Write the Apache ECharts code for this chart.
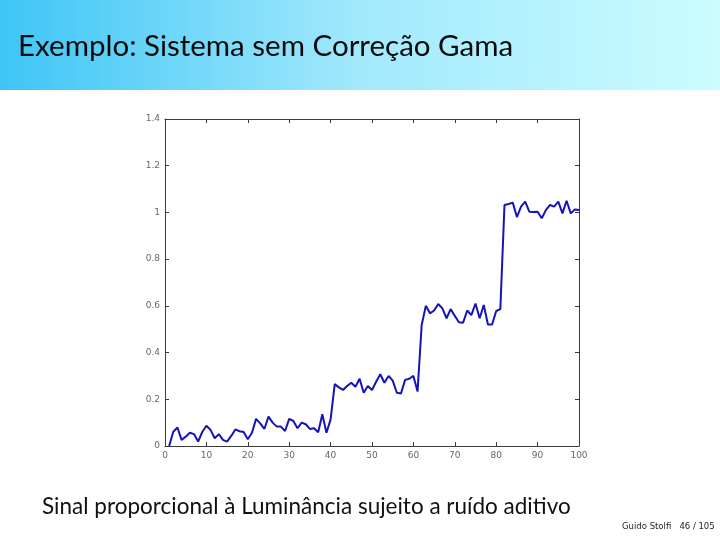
<!DOCTYPE html>
<html>
<head>
<meta charset="utf-8">
<script src="https://cdn.jsdelivr.net/npm/echarts@6/dist/echarts.min.js"></script>
<style>
html,body{margin:0;padding:0;background:#fff;}
#c{width:720px;height:540px;}
</style>
</head>
<body>
<div id="c"></div>
<script>
const titleText = "Exemplo: Sistema sem Correção Gama";
const captionText = "Sinal proporcional à Luminância sujeito a ruído aditivo";
const footerText = "Guido Stolfi   46 / 105";

const sampleIndex = [1,2,3,4,5,6,7,8,9,10,11,12,13,14,15,16,17,18,19,20,
  21,22,23,24,25,26,27,28,29,30,31,32,33,34,35,36,37,38,39,40,
  41,42,43,44,45,46,47,48,49,50,51,52,53,54,55,56,57,58,59,60,
  61,62,63,64,65,66,67,68,69,70,71,72,73,74,75,76,77,78,79,80,
  81,82,83,84,85,86,87,88,89,90,91,92,93,94,95,96,97,98,99,100];

const signal = [0.000,0.061,0.079,0.026,0.040,0.057,0.051,0.019,0.060,0.087,
  0.069,0.033,0.051,0.026,0.019,0.043,0.071,0.063,0.060,0.029,
  0.057,0.116,0.097,0.073,0.126,0.100,0.083,0.083,0.064,0.116,
  0.107,0.076,0.100,0.093,0.073,0.076,0.059,0.136,0.057,0.114,
  0.265,0.251,0.240,0.257,0.271,0.254,0.288,0.228,0.257,0.240,
  0.275,0.307,0.271,0.300,0.280,0.228,0.225,0.283,0.288,0.300,
  0.233,0.518,0.600,0.568,0.580,0.608,0.589,0.547,0.586,0.557,
  0.530,0.528,0.580,0.560,0.610,0.547,0.604,0.520,0.520,0.578,
  0.586,1.032,1.036,1.042,0.980,1.025,1.046,1.003,1.002,1.003,
  0.975,1.010,1.032,1.025,1.046,0.996,1.050,0.996,1.013,1.010];

const xTicks = [0,10,20,30,40,50,60,70,80,90,100];
const yTicks = [0,0.2,0.4,0.6,0.8,1,1.2,1.4];

const chart = echarts.init(document.getElementById('c'), null, {renderer:'canvas'});
const pts = sampleIndex.map((x,i)=>[x, signal[i]]);
const axisCol = '#3a3a3a';
const lblCol = '#666';
const tickStyle = {show:true, inside:true, length:4, lineStyle:{color:axisCol, width:1}};

chart.setOption({
  animation:false,
  backgroundColor:'#ffffff',
  grid:{left:165, right:141, top:119, bottom:94, show:false},
  xAxis:[{
    type:'value', min:xTicks[0], max:xTicks[xTicks.length-1], interval:10, position:'bottom',
    axisLine:{show:true, onZero:false, lineStyle:{color:axisCol, width:1}},
    axisTick:tickStyle,
    axisLabel:{color:lblCol, fontSize:9, fontFamily:'DejaVu Sans', margin:5},
    splitLine:{show:false}
  },{
    type:'value', min:xTicks[0], max:xTicks[xTicks.length-1], interval:10, position:'top',
    axisLine:{show:true, onZero:false, lineStyle:{color:axisCol, width:1}},
    axisTick:tickStyle, axisLabel:{show:false}, splitLine:{show:false}
  }],
  yAxis:[{
    type:'value', min:yTicks[0], max:yTicks[yTicks.length-1], interval:0.2, position:'left',
    axisLine:{show:true, onZero:false, lineStyle:{color:axisCol, width:1}},
    axisTick:tickStyle,
    axisLabel:{color:lblCol, fontSize:9, fontFamily:'DejaVu Sans', margin:5,
      formatter:v=>String(+v.toFixed(1))},
    splitLine:{show:false}
  },{
    type:'value', min:yTicks[0], max:yTicks[yTicks.length-1], interval:0.2, position:'right',
    axisLine:{show:true, onZero:false, lineStyle:{color:axisCol, width:1}},
    axisTick:tickStyle, axisLabel:{show:false}, splitLine:{show:false}
  }],
  series:[{
    type:'line', xAxisIndex:0, yAxisIndex:0, data:pts, showSymbol:false, symbol:'none',
    lineStyle:{color:'#1414b8', width:2}, smooth:false, clip:true
  }],
  graphic:[
    {type:'rect', left:0, top:0, z:-10, shape:{width:720, height:90},
      style:{fill:new echarts.graphic.LinearGradient(0,0,1,0,[
        {offset:0, color:'#3ec5f6'},
        {offset:0.5, color:'#a2e9fc'},
        {offset:1, color:'#cbfcff'}])}},
    {type:'text', left:18, top:31, style:{text:titleText, font:'29.5px Lato', fill:'#0a0a0a'}},
    {type:'text', left:42, top:495, style:{text:captionText, font:'22.5px Lato', fill:'#111'}},
    {type:'text', left:622, top:522, style:{text:footerText, font:'8.5px "DejaVu Sans"', fill:'#222'}}
  ]
});
</script>
</body>
</html>
